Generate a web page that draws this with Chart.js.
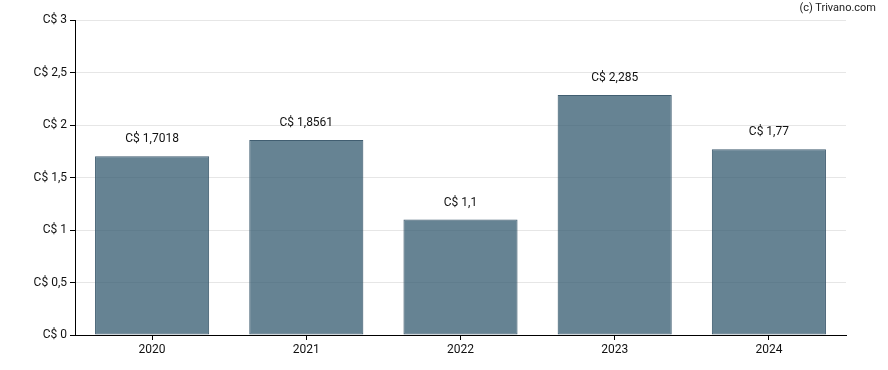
<!DOCTYPE html>
<html>
<head>
<meta charset="utf-8">
<script src="https://cdn.jsdelivr.net/npm/chart.js@4/dist/chart.umd.min.js"></script>
<style>
  html, body { margin: 0; padding: 0; background: #fff; }
  #wrap { position: relative; width: 888px; height: 370px; }
  #credit {
    position: absolute; right: 12px; top: 1px;
    font: 11px Roboto, sans-serif; color: #222;
  }
</style>
</head>
<body>
<div id="wrap">
  <canvas id="c" width="888" height="370"></canvas>
  <div id="credit">(c) Trivano.com</div>
</div>
<script>
const years = ["2020", "2021", "2022", "2023", "2024"];
const dividends = [1.7018, 1.8561, 1.1, 2.285, 1.77];
const valueLabels = ["C$ 1,7018", "C$ 1,8561", "C$ 1,1", "C$ 2,285", "C$ 1,77"];

function fmtTick(v) {
  return "C$ " + String(Math.round(v * 10) / 10).replace(".", ",");
}

const barLabels = {
  id: "barLabels",
  afterDatasetsDraw(chart) {
    const ctx = chart.ctx;
    const meta = chart.getDatasetMeta(0);
    ctx.save();
    ctx.font = "12px Roboto, sans-serif";
    ctx.fillStyle = "#111";
    ctx.textAlign = "center";
    ctx.textBaseline = "bottom";
    meta.data.forEach((bar, i) => {
      ctx.fillText(valueLabels[i], bar.x, bar.y - 11);
    });
    ctx.restore();
  },
};

new Chart(document.getElementById("c"), {
  type: "bar",
  data: {
    labels: years,
    datasets: [{
      data: dividends,
      backgroundColor: "rgba(51, 90, 111, 0.75)",
      borderColor: "rgba(55, 85, 105, 0.95)",
      borderWidth: 1,
      borderSkipped: false,
      barPercentage: 0.74,
      categoryPercentage: 1,
    }],
  },
  options: {
    responsive: false,
    animation: false,
    layout: { padding: { top: 20, right: 42, left: 0, bottom: 0 } },
    plugins: { legend: { display: false }, tooltip: { enabled: false } },
    scales: {
      x: {
        offset: true,
        grid: { drawOnChartArea: false, offset: false, tickLength: 5, tickColor: "#000" },
        border: { color: "#000", width: 1 },
        ticks: { color: "#111", font: { family: "Roboto", size: 12 }, padding: 3 },
        afterFit(s) { s.height = 35; },
      },
      y: {
        min: 0,
        max: 3,
        grid: { color: "#e6e6e6", tickLength: 5, tickColor: "#000" },
        border: { color: "#000", width: 1 },
        ticks: {
          stepSize: 0.5,
          color: "#111",
          font: { family: "Roboto", size: 12 },
          padding: 3,
          callback: (v) => fmtTick(v),
        },
        afterFit(s) { s.width = 75; },
      },
    },
  },
  plugins: [barLabels],
});
</script>
</body>
</html>
